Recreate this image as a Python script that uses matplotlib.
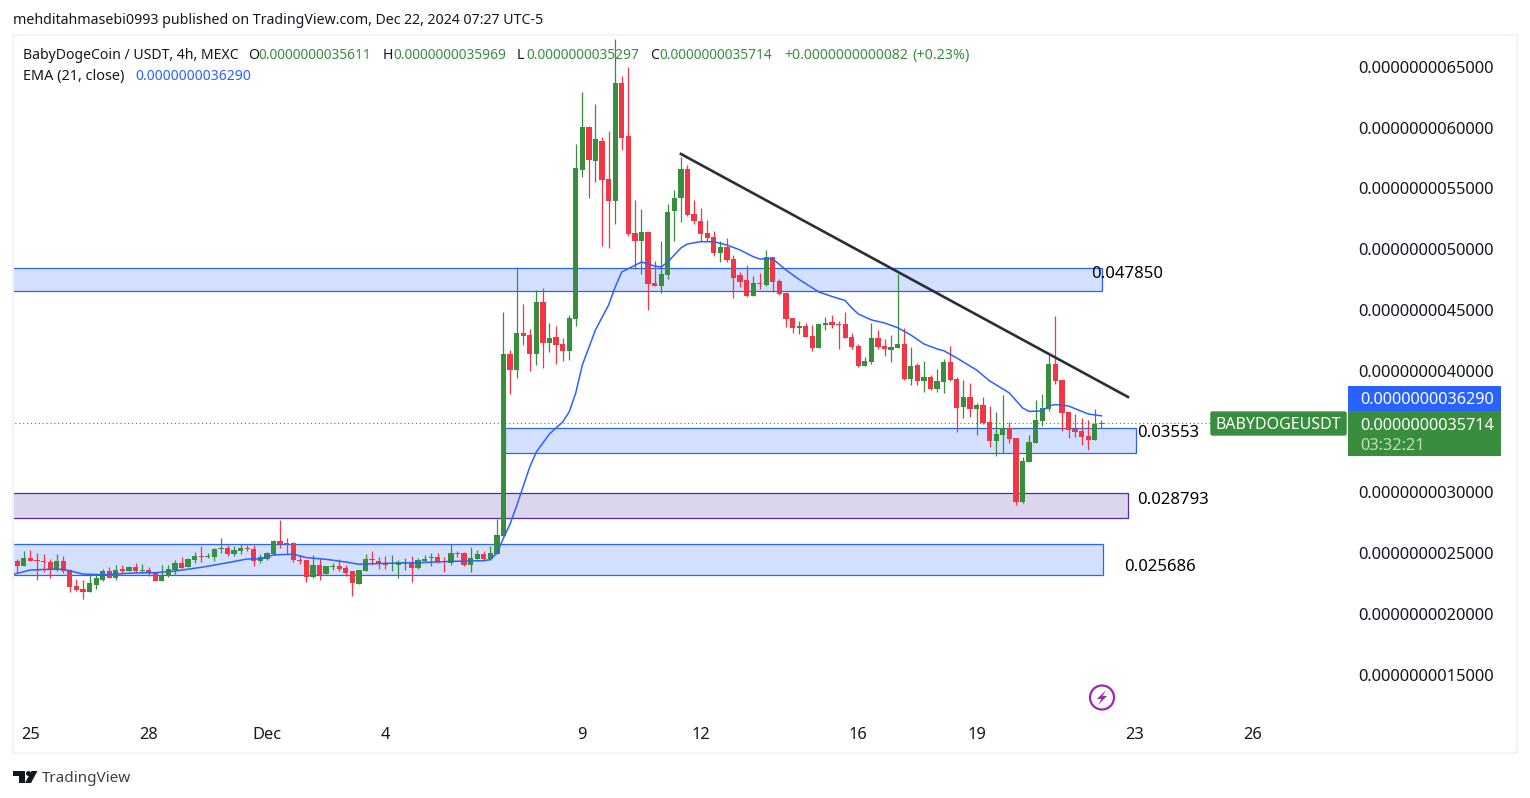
import matplotlib
matplotlib.use('Agg')
import matplotlib.pyplot as plt
import numpy as np
from matplotlib.patches import Rectangle, Circle, Polygon, FancyBboxPatch

plt.rcParams['font.family'] = ['Noto Sans', 'DejaVu Sans']

# prices are in units of 1e-12 USDT, 4h bars starting a little before Nov 25
opens = [2434, 2393, 2459, 2440, 2434, 2426, 2368, 2434, 2360, 2228,
         2204, 2179, 2237, 2278, 2352, 2294, 2368, 2352, 2385, 2352,
         2360, 2343, 2269, 2311, 2360, 2418, 2385, 2442, 2475, 2467,
         2467, 2533, 2541, 2492, 2516, 2541, 2533, 2434, 2450, 2492,
         2599, 2582, 2582, 2442, 2442, 2302, 2401, 2327, 2385, 2393,
         2376, 2352, 2245, 2352, 2450, 2434, 2418, 2409, 2401, 2418,
         2426, 2376, 2434, 2459, 2467, 2434, 2418, 2497, 2500, 2401,
         2450, 2492, 2450, 2492, 2640, 4138, 4006, 4310, 4294, 4138,
         4566, 4228, 4277, 4220, 4162, 4426, 5652, 6006, 5726, 5891,
         5578, 5397, 6368, 5932, 5133, 5068, 5142, 4722, 4697, 4788,
         5314, 5421, 5660, 5290, 5232, 5133, 5100, 4969, 5018, 4919,
         4788, 4747, 4615, 4722, 4705, 4936, 4738, 4640, 4434, 4352,
         4368, 4286, 4187, 4376, 4401, 4384, 4384, 4277, 4203, 4039,
         4072, 4269, 4203, 4170, 4187, 4220, 3932, 4047, 3915, 3948,
         3849, 3907, 4072, 3932, 3701, 3784, 3685, 3718, 3578, 3422,
         3471, 3529, 3446, 2919, 3249, 3405, 3586, 3685, 4055, 3924,
         3660, 3520, 3504, 3463, 3430, 3561]
highs = [2450, 2516, 2525, 2500, 2492, 2450, 2492, 2475, 2368, 2286,
         2278, 2335, 2319, 2368, 2385, 2401, 2401, 2393, 2418, 2409,
         2385, 2343, 2401, 2401, 2442, 2467, 2459, 2508, 2557, 2500,
         2541, 2623, 2566, 2557, 2574, 2566, 2566, 2492, 2508, 2607,
         2771, 2623, 2590, 2483, 2442, 2483, 2459, 2393, 2418, 2450,
         2401, 2352, 2360, 2492, 2516, 2467, 2475, 2483, 2442, 2459,
         2475, 2459, 2483, 2500, 2500, 2467, 2574, 2516, 2508, 2549,
         2525, 2516, 2557, 2780, 4483, 4170, 4854, 4549, 4343, 4664,
         4681, 4393, 4368, 4269, 4459, 5866, 6294, 6014, 6195, 5924,
         5973, 6730, 6426, 6500, 5405, 5331, 5142, 4903, 5068, 5372,
         5487, 5759, 5693, 5405, 5339, 5240, 5150, 5068, 5092, 4952,
         4812, 4870, 4779, 4804, 4993, 4936, 4755, 4648, 4434, 4409,
         4393, 4376, 4384, 4442, 4459, 4409, 4483, 4310, 4220, 4113,
         4393, 4335, 4261, 4294, 4796, 4352, 4195, 4063, 4080, 3965,
         4014, 4096, 4203, 3948, 3924, 3899, 3734, 3784, 3710, 3660,
         3800, 3578, 3446, 3290, 3471, 3759, 3808, 4129, 4450, 3924,
         3660, 3644, 3611, 3594, 3685, 3597]
lows = [2333, 2393, 2434, 2278, 2343, 2294, 2352, 2335, 2179, 2187,
        2121, 2179, 2204, 2269, 2294, 2278, 2335, 2352, 2335, 2335,
        2311, 2269, 2269, 2302, 2327, 2376, 2385, 2418, 2426, 2459,
        2434, 2500, 2475, 2475, 2492, 2516, 2393, 2418, 2442, 2483,
        2541, 2492, 2426, 2409, 2261, 2294, 2278, 2327, 2360, 2352,
        2311, 2146, 2245, 2352, 2401, 2368, 2368, 2352, 2294, 2360,
        2261, 2368, 2426, 2393, 2418, 2343, 2401, 2467, 2393, 2343,
        2450, 2434, 2442, 2492, 2640, 3808, 3940, 4212, 3998, 4047,
        4022, 4154, 4055, 4080, 4088, 4368, 5594, 5421, 5553, 5027,
        5010, 5207, 5816, 5109, 4837, 4796, 4500, 4697, 4640, 4755,
        5068, 5224, 5273, 5207, 5068, 5068, 4944, 4895, 4895, 4598,
        4689, 4607, 4615, 4673, 4697, 4648, 4623, 4360, 4310, 4302,
        4277, 4162, 4187, 4335, 4352, 4179, 4269, 4179, 4031, 4039,
        4055, 4179, 4121, 4072, 4187, 3924, 3882, 3882, 3825, 3841,
        3825, 3817, 3915, 3496, 3611, 3619, 3471, 3561, 3372, 3298,
        3323, 3405, 2895, 2911, 3249, 3405, 3545, 3668, 3891, 3504,
        3446, 3455, 3389, 3347, 3430, 3530]
closes = [2393, 2459, 2434, 2434, 2426, 2365, 2434, 2352, 2220, 2195,
          2179, 2253, 2294, 2352, 2294, 2360, 2352, 2385, 2352, 2360,
          2335, 2269, 2319, 2368, 2418, 2376, 2450, 2475, 2467, 2475,
          2533, 2541, 2492, 2525, 2541, 2533, 2434, 2467, 2500, 2599,
          2574, 2574, 2442, 2434, 2302, 2401, 2319, 2393, 2393, 2368,
          2335, 2253, 2360, 2450, 2442, 2409, 2401, 2418, 2426, 2426,
          2376, 2442, 2450, 2467, 2426, 2426, 2500, 2489, 2401, 2459,
          2492, 2450, 2500, 2648, 4138, 4006, 4310, 4286, 4138, 4566,
          4228, 4269, 4212, 4162, 4434, 5668, 6006, 5734, 5907, 5570,
          5397, 6368, 5915, 5125, 5068, 5142, 4714, 4697, 4796, 5306,
          5421, 5660, 5282, 5232, 5125, 5092, 4969, 5018, 4911, 4763,
          4730, 4615, 4722, 4714, 4936, 4730, 4631, 4426, 4352, 4368,
          4277, 4187, 4384, 4393, 4376, 4376, 4269, 4195, 4039, 4080,
          4269, 4195, 4179, 4195, 4220, 3932, 4039, 3915, 3948, 3849,
          3915, 4072, 3924, 3693, 3784, 3685, 3718, 3570, 3422, 3479,
          3529, 3438, 2919, 3257, 3413, 3594, 3693, 4055, 3915, 3652,
          3512, 3496, 3455, 3430, 3561, 3571]

ema_bars = [-1, 2, 5, 7, 10, 13, 15, 18, 21, 24, 28, 32, 35, 37, 39, 42, 44, 47,
            50, 52, 56, 61, 66, 71, 72, 73, 74, 75, 76, 78, 79, 81, 83, 84, 85,
            86, 88, 90, 91, 92, 95, 97, 98, 99, 101, 102, 104, 106, 108, 110,
            112, 113, 115, 117, 119, 122, 124, 126, 127, 128, 130, 132, 134,
            136, 138, 140, 141, 143, 146, 148, 150, 151, 153, 154, 156, 157,
            158, 160, 163, 165]
ema_vals = [2319, 2360, 2366, 2366, 2327, 2321, 2327, 2336, 2338, 2352, 2382,
            2420, 2451, 2451, 2484, 2490, 2462, 2448, 2426, 2407, 2415, 2420,
            2431, 2437, 2445, 2500, 2623, 2739, 2887, 3208, 3331, 3480, 3578,
            3661, 3817, 4047, 4336, 4541, 4689, 4813, 4895, 4862, 4854, 4895,
            5010, 5043, 5062, 5062, 5035, 4994, 4939, 4920, 4920, 4829, 4751,
            4648, 4611, 4578, 4517, 4467, 4418, 4393, 4354, 4294, 4220, 4179,
            4165, 4105, 4006, 3916, 3850, 3817, 3694, 3665, 3669, 3710, 3722,
            3710, 3644, 3629]

# zones: first bar, last bar, low price, high price
zone_starts = [-2, 74.2, -2, -2]
zone_ends = [165.1, 170.2, 169.1, 165.2]
zone_lows = [4660, 3327, 2788, 2315]
zone_highs = [4846, 3529, 2994, 2574]
zone_fills = ['#d4e0ff', '#d4e0ff', '#dcd6ed', '#d4e0ff']
zone_edges = ['#2962ff', '#2962ff', '#512da8', '#2962ff']

trend_bars = [101.0, 169.05]
trend_vals = [5784, 3784]

price_ticks = [6500, 6000, 5500, 5000, 4500, 4000, 3000, 2500, 2000, 1500]
price_labels = ['0.0000000065000', '0.0000000060000', '0.0000000055000',
                '0.0000000050000', '0.0000000045000', '0.0000000040000',
                '0.0000000030000', '0.0000000025000', '0.0000000020000',
                '0.0000000015000']
date_ticks = [2, 20, 38, 56, 86, 104, 128, 146, 170, 188]
date_labels = ['25', '28', 'Dec', '4', '9', '12', '16', '19', '23', '26']

GREEN = '#388e3c'
RED = '#f23645'
BLUE = '#2962ff'
DARK = '#131722'

W, H = 1530, 798
fig = plt.figure(figsize=(W / 100, H / 100), dpi=100, facecolor='white')
ax = fig.add_axes([13 / W, 1 - 753 / H, (1517 - 13) / W, (753 - 35) / H])
ax.set_xlim(-0.654, 228.26)
ax.set_ylim(854, 6763)
for s in ax.spines.values():
    s.set_visible(False)

# zones
for i in range(len(zone_starts)):
    ax.add_patch(Rectangle((zone_starts[i], zone_lows[i]), zone_ends[i] - zone_starts[i],
                           zone_highs[i] - zone_lows[i], facecolor=zone_fills[i],
                           edgecolor=zone_edges[i], linewidth=0.9, zorder=1))

# candles
bars = np.arange(len(closes))
o = np.array(opens)
c = np.array(closes)
colors = [GREEN if c[i] >= o[i] else RED for i in bars]
ax.vlines(bars, lows, highs, colors=colors, linewidth=0.9, zorder=2)
body_low = np.minimum(o, c)
body_h = np.maximum(np.abs(c - o), 10)
ax.bar(bars, body_h, bottom=body_low, width=0.8, color=colors, linewidth=0, zorder=3)

# last price line, EMA, trend line
ax.plot([-1, 203], [closes[-1], closes[-1]], color=GREEN, linewidth=0.8, linestyle=(0, (1, 2.5)), zorder=2)
ax.plot(ema_bars, ema_vals, color=BLUE, linewidth=1.1, zorder=4)
ax.plot(trend_bars, trend_vals, color='#2a2e39', linewidth=1.9, zorder=5)

ax.set_yticks(price_ticks)
ax.set_yticklabels(price_labels)
ax.yaxis.tick_right()
ax.tick_params(axis='y', length=0, pad=-114.2, labelsize=11.85, labelcolor=DARK)
ax.set_xticks(date_ticks)
ax.set_xticklabels(date_labels)
ax.tick_params(axis='x', length=0, pad=-19, labelsize=11.8, labelcolor=DARK)
ax.get_xticklabels()[2].set_fontweight('bold')

# drawn level labels
ax.text(163.5, 4799, '0.047850', fontsize=12, color='black', va='center', zorder=6)
ax.text(170.5, 3490, '0.03553', fontsize=12, color='black', va='center', zorder=6)
ax.text(170.5, 2939, '0.028793', fontsize=12, color='black', va='center', zorder=6)
ax.text(168.5, 2388, '0.025686', fontsize=12, color='black', va='center', zorder=6)

# everything around the plot, in pixels
ov = fig.add_axes([0, 0, 1, 1], zorder=10)
ov.set_xlim(0, W)
ov.set_ylim(H, 0)
ov.axis('off')
ov.patch.set_alpha(0)

ov.add_patch(Rectangle((13, 35), 1504, 718, fill=False, edgecolor='#f0f3fa', linewidth=1.6))

ov.text(13, 20.5, 'mehditahmasebi0993 published on TradingView.com, Dec 22, 2024 07:27 UTC-5',
        fontsize=10.2, color=DARK, va='center')

y1 = 55.5
ov.text(23, y1, 'BabyDogeCoin / USDT, 4h, MEXC', fontsize=10.1, color=DARK, va='center')
for lx, letter, vx, val in [(248, 'O', 258, '0.0000000035611'), (383, 'H', 393, '0.0000000035969'),
                            (517, 'L', 526, '0.0000000035297'), (650, 'C', 659, '0.0000000035714')]:
    ov.text(lx, y1, letter, fontsize=10.1, color=DARK, va='center')
    ov.text(vx, y1, val, fontsize=9.95, color=GREEN, va='center')
ov.text(784, y1, '+0.0000000000082', fontsize=10.1, color=GREEN, va='center')
ov.text(912, y1, '(+0.23%)', fontsize=10.3, color=GREEN, va='center')
ov.text(23, 76.5, 'EMA (21, close)', fontsize=10.4, color=DARK, va='center')
ov.text(135, 76.5, '0.0000000036290', fontsize=10.1, color=BLUE, va='center')

# price tags on the right
ov.add_patch(FancyBboxPatch((1211, 412), 135, 23, boxstyle='round,pad=0,rounding_size=1.5', facecolor=GREEN, edgecolor=GREEN, linewidth=1))
ov.text(1216, 425, 'BABYDOGEUSDT', fontsize=11.5, color='white', va='center', fontweight='medium')
ov.add_patch(Rectangle((1348, 386), 153, 25, facecolor=BLUE, edgecolor='none'))
ov.add_patch(Rectangle((1348, 411), 153, 45, facecolor=GREEN, edgecolor='none'))
ov.text(1360, 399.5, '0.0000000036290', fontsize=11.7, color='white', va='center', fontweight='medium')
ov.text(1360, 425.5, '0.0000000035714', fontsize=11.7, color='white', va='center', fontweight='medium')
ov.text(1360, 445.5, '03:32:21', fontsize=11.8, color='#c4ddc5', va='center')

# lightning icon
ov.add_patch(Circle((1102, 697.5), 12, fill=False, edgecolor='#9c27b0', linewidth=1.6))
ov.add_patch(Polygon([(1106, 690), (1097, 699), (1101.5, 699), (1098, 705), (1107, 696), (1102.5, 696)],
                     facecolor='#9c27b0', edgecolor='none'))

# TradingView logo
ov.add_patch(Polygon([(13, 771), (25, 771), (25, 783), (19, 783), (19, 776), (13, 776)], facecolor=DARK, edgecolor='none'))
ov.add_patch(Circle((28.5, 773.5), 2.5, facecolor=DARK, edgecolor='none'))
ov.add_patch(Polygon([(31.5, 771), (37.5, 771), (31, 783), (25, 783)], facecolor=DARK, edgecolor='none'))
ov.text(42, 778.5, 'TradingView', fontsize=11, color='#3b3f4a', va='center')

fig.savefig('out.png', dpi=100)
